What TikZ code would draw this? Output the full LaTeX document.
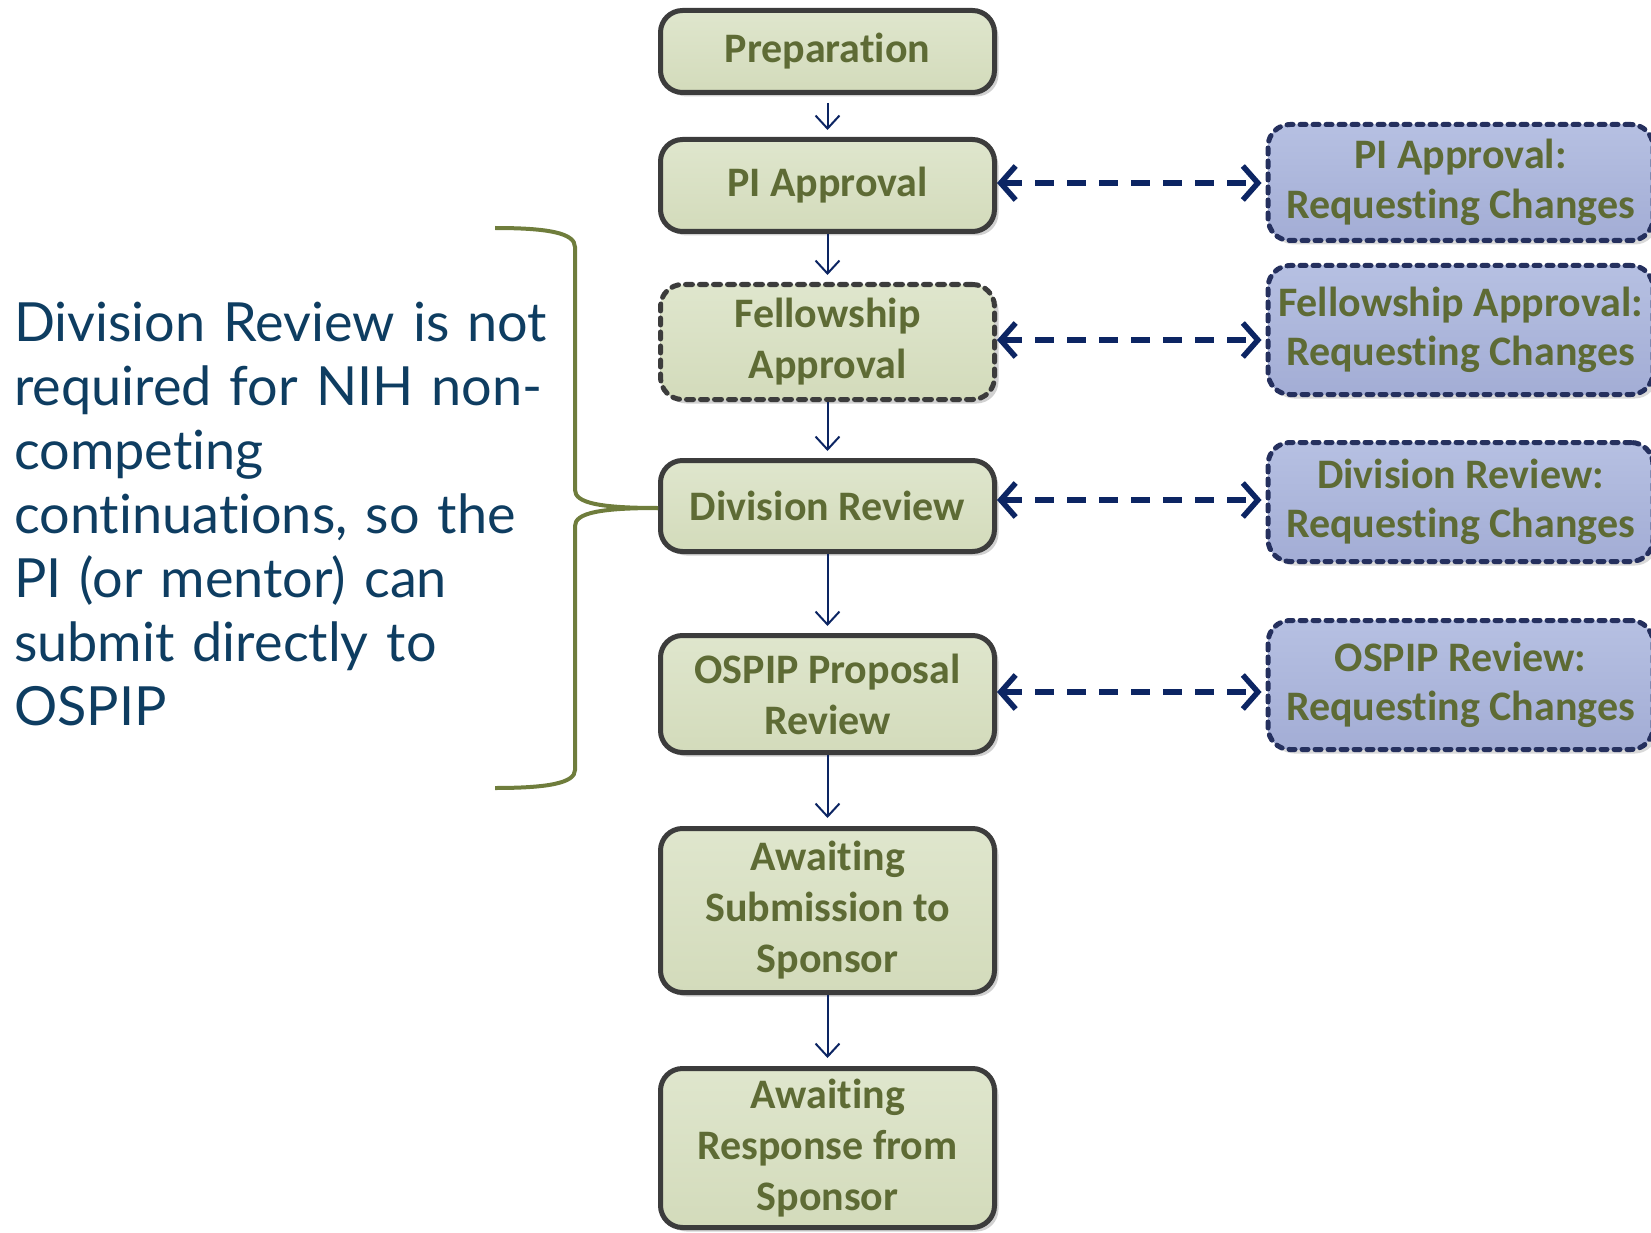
\documentclass[tikz,border=0pt]{standalone}
\usepackage{fontspec}
\usetikzlibrary{arrows.meta,shadows,calc}
\newfontfamily\boxfont[Ligatures=NoCommon]{Carlito}
\newfontfamily\notefont[Ligatures=NoCommon]{Lato}
\definecolor{olivetext}{HTML}{5E6B35}
\definecolor{greentop}{HTML}{DFE6CD}
\definecolor{greenbot}{HTML}{D3DBBB}
\definecolor{bluetop}{HTML}{B6C0E2}
\definecolor{bluebot}{HTML}{A3ADD5}
\definecolor{boxedge}{HTML}{3C3C3C}
\definecolor{navyedge}{HTML}{25305E}
\definecolor{navyline}{HTML}{0C2563}
\definecolor{bracecol}{HTML}{6F7D3C}
\definecolor{notecol}{HTML}{0E3D61}
\tikzset{
  mainbox/.style={draw=boxedge, line width=5pt, rounded corners=22pt,
    top color=greentop, bottom color=greenbot,
    drop shadow={shadow xshift=4pt, shadow yshift=-4pt, fill=black, opacity=0.18},
    minimum width=334pt, align=center,
    font=\boxfont\bfseries\fontsize{42}{51}\selectfont, text=olivetext, inner sep=0pt},
  optbox/.style={mainbox, dash pattern=on 7pt off 7pt, line cap=round},
  sidebox/.style={draw=navyedge, line width=5pt, rounded corners=22pt,
    dash pattern=on 6pt off 7pt, line cap=round,
    top color=bluetop, bottom color=bluebot,
    drop shadow={shadow xshift=4pt, shadow yshift=-4pt, fill=black, opacity=0.15},
    minimum width=385pt, align=center,
    font=\boxfont\bfseries\fontsize{42}{49.5}\selectfont, text=olivetext, inner sep=0pt},
  flow/.style={draw=navyline, line width=2pt,
    -{Straight Barb[length=13pt,width=24pt]}},
  change/.style={draw=navyline, line width=5.5pt, dash pattern=on 19pt off 13pt,
    {Straight Barb[length=15pt,width=34pt]}-{Straight Barb[length=15pt,width=34pt]}},
  bracestyle/.style={draw=bracecol, line width=4pt},
  note/.style={text=notecol, font=\notefont\fontsize{54}{64}\selectfont,
    text width=620pt, align=left, inner sep=0pt, anchor=base west}
}
\begin{document}
\begin{tikzpicture}[x=1pt,y=-1pt]
\useasboundingbox (0,0) rectangle (1651,1233);
% main flow
\node[mainbox, minimum height=82pt] (prep) at (827.5,51.5) {Preparation};
\node[mainbox, minimum height=92pt] (pi) at (827.5,185.5) {PI Approval};
\node[optbox, minimum height=115pt] (fell) at (827.5,342) {Fellowship\\Approval};
\node[mainbox, minimum height=91pt] (div) at (827.5,506) {Division Review};
\node[mainbox, minimum height=117pt] (ospip) at (827.5,694) {OSPIP Proposal\\Review};
\node[mainbox, minimum height=164pt] (sub) at (827.5,910.5) {Awaiting\\Submission to\\Sponsor};
\node[mainbox, minimum height=159pt] (resp) at (827.5,1148) {Awaiting\\Response from\\Sponsor};
% side boxes
\node[sidebox, minimum height=116pt] (r1) at (1460.5,182.5) {PI Approval:\\Requesting Changes};
\node[sidebox, minimum height=129pt] (r2) at (1460.5,330) {Fellowship Approval:\\Requesting Changes};
\node[sidebox, minimum height=119pt] (r3) at (1460.5,502) {Division Review:\\Requesting Changes};
\node[sidebox, minimum height=129pt] (r4) at (1460.5,685) {OSPIP Review:\\Requesting Changes};
% flow arrows
\draw[flow, shorten <=8pt, shorten >=7pt] (prep.south) -- (pi.north);
\draw[flow, shorten >=7pt] (pi.south) -- (fell.north);
\draw[flow, shorten >=7pt] (fell.south) -- (div.north);
\draw[flow, shorten >=7pt] (div.south) -- (ospip.north);
\draw[flow, shorten >=8pt] (ospip.south) -- (sub.north);
\draw[flow, shorten >=8pt] (sub.south) -- (resp.north);
% change arrows
\coordinate (c1) at ($(pi.east)+(0,-2.5)$);
\coordinate (c2) at ($(fell.east)+(0,-2)$);
\coordinate (c3) at ($(div.east)+(0,-6)$);
\coordinate (c4) at ($(ospip.east)+(0,-2)$);
\draw[change, shorten >=4pt] (c1) -- (c1 -| r1.west);
\draw[change, shorten >=4pt] (c2) -- (c2 -| r2.west);
\draw[change, shorten >=4pt] (c3) -- (c3 -| r3.west);
\draw[change, shorten >=4pt] (c4) -- (c4 -| r4.west);
% brace
\coordinate (btop) at (495,228);
\coordinate (bbot) at (495,788);
\coordinate (btip) at ($(div.west)+(0,2)$);
\draw[bracestyle] (btop) .. controls (548,228) and (575,233) .. (575,247)
  -- (575,490) .. controls (575,503) and (600,508) .. (btip);
\draw[bracestyle] (btip) .. controls (600,508) and (575,513) .. (575,526)
  -- (575,770) .. controls (575,783) and (548,788) .. (bbot);
% note
\node[note] (txt) at (14,341) {Division Review is not\\required for NIH non-\\competing\\continuations, so the\\PI (or mentor) can\\submit directly to\\OSPIP};
\end{tikzpicture}
\end{document}
